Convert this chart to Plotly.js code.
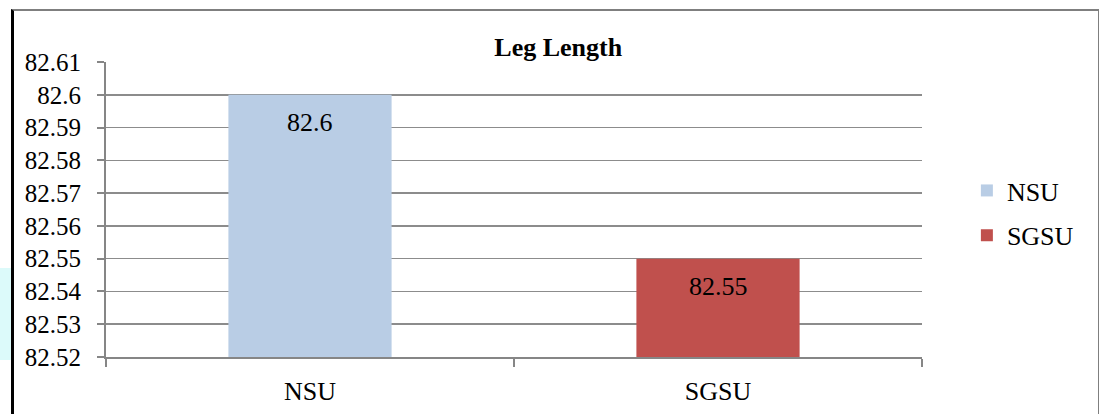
<!DOCTYPE html>
<html>
<head>
<meta charset="utf-8">
<script src="https://cdn.plot.ly/plotly-3.0.1.min.js"></script>
<style>
html,body{margin:0;padding:0;background:#fff;}
#wrap{position:relative;width:1099px;height:414px;overflow:hidden;}
#frame{position:absolute;left:11px;top:9px;width:1084px;height:420px;border-left:3px solid #000;border-top:2px solid #7f7f7f;border-right:2px solid #7f7f7f;}
#deco{position:absolute;left:0;top:268px;width:11px;height:92px;background:#dcfafa;}
#chart{position:absolute;left:0;top:0;width:1099px;height:414px;}
</style>
</head>
<body>
<div id="wrap">
<div id="deco"></div>
<div id="frame"></div>
<div id="chart"></div>
</div>
<script>
const categories = ['NSU', 'SGSU'];
const values = [82.6, 82.55];
const colors = ['#B9CDE5', '#C0504D'];
const yTickVals = [82.52, 82.53, 82.54, 82.55, 82.56, 82.57, 82.58, 82.59, 82.6, 82.61];
const yTickText = ['82.52', '82.53', '82.54', '82.55', '82.56', '82.57', '82.58', '82.59', '82.6', '82.61'];
const labelText = ['82.6', '82.55'];

const font = '"Liberation Serif", "Times New Roman", Times, serif';
const traces = categories.map((c, i) => ({
  type: 'bar',
  x: [c],
  y: [values[i]],
  name: c,
  legendgroup: c,
  marker: {color: colors[i]},
  width: 0.4,
  hoverinfo: 'skip'
}));

const annotations = categories.map((c, i) => ({
  x: c, y: values[i], xref: 'x', yref: 'y',
  text: labelText[i], showarrow: false,
  yanchor: 'middle', yshift: -28,
  font: {family: font, size: 26, color: '#000'}
}));

const layout = {
  width: 1099, height: 414,
  margin: {l: 106, r: 177, t: 62, b: 57},
  paper_bgcolor: 'rgba(0,0,0,0)',
  plot_bgcolor: 'rgba(0,0,0,0)',
  barmode: 'overlay',
  title: {text: '<b>Leg Length</b>', x: 0.508, xanchor: 'center', y: 0.8865, yanchor: 'middle',
          font: {family: font, size: 26, color: '#000'}},
  font: {family: font, size: 26, color: '#000'},
  xaxis: {
    type: 'category',
    tickson: 'boundaries', ticks: 'outside', ticklen: 8, tickcolor: '#868686', tickwidth: 2,
    showline: true, linecolor: '#868686', linewidth: 2, ticklabelstandoff: 10,
    showgrid: false, tickfont: {family: font, size: 26, color: '#000'}
  },
  yaxis: {
    range: [82.52, 82.61],
    tickvals: yTickVals, ticktext: yTickText,
    ticks: 'outside', ticklen: 7, tickcolor: '#868686', tickwidth: 2,
    showline: true, linecolor: '#868686', linewidth: 2,
    showgrid: true, gridcolor: '#8c8c8c', gridwidth: 1.5,
    zeroline: false, ticklabelstandoff: 11,
    tickfont: {family: font, size: 25, color: '#000'}
  },
  legend: {x: 1.055, y: 0.488, xanchor: 'left', yanchor: 'middle',
           traceorder: 'grouped', tracegroupgap: 8, itemwidth: 30,
           font: {family: font, size: 26, color: '#000'}, bgcolor: 'rgba(0,0,0,0)'},
  annotations: annotations,
  showlegend: true
};
Plotly.newPlot('chart', traces, layout, {displayModeBar: false, staticPlot: true});
</script>
</body>
</html>
